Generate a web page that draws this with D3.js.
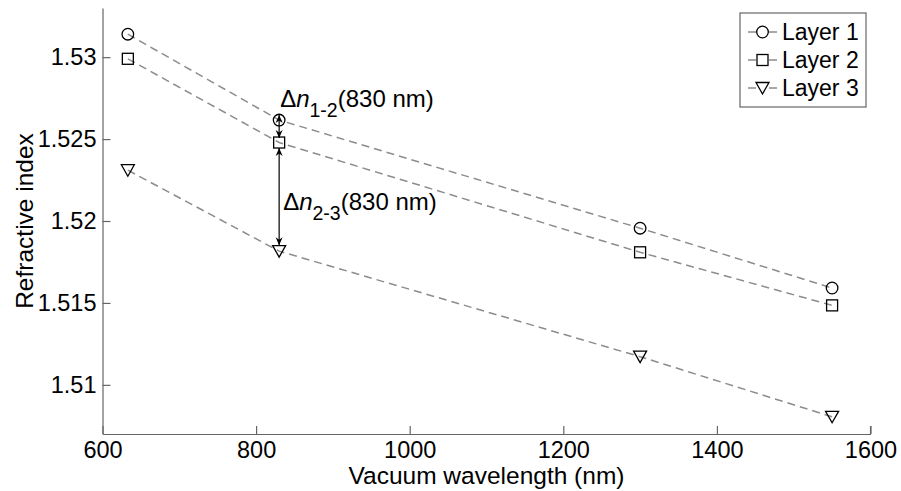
<!DOCTYPE html>
<html>
<head>
  <meta charset="utf-8">
  <title>Refractive index vs vacuum wavelength</title>
  <script src="https://d3js.org/d3.v7.min.js"></script>
  <style>
    body { margin: 0; background: #fff; }
    text { font-family: "Liberation Sans", Arial, sans-serif; fill: #000; }
  </style>
</head>
<body>
  <svg width="901" height="491"></svg>
  <script>
// data
const wavelengths = [633, 830, 1300, 1550];
const layer1 = [1.5314, 1.52616, 1.51956, 1.51591];
const layer2 = [1.5299, 1.52479, 1.51809, 1.51485];
const layer3 = [1.5231, 1.51816, 1.51172, 1.50805];
const seriesNames = ['Layer 1', 'Layer 2', 'Layer 3'];
const markerShapes = ['circle', 'square', 'triangle'];
const xTicks = [600, 800, 1000, 1200, 1400, 1600];
const yTicks = [1.51, 1.515, 1.52, 1.525, 1.53];
const annoWavelength = 830;

const svg = d3.select('svg');
const tickFont = 23.5;
const titleFont = 24.5;
const axisColor = '#666';
const lineColor = '#8c8c8c';

// scales
const x = d3.scaleLinear().domain([600, 1600]).range([102.5, 870.5]);
const y = d3.scaleLinear().domain([1.507, 1.533]).range([434, 8]);

// axes (ticks pointing inward, like matlab)
const xAxis = svg.append('g')
  .attr('transform', `translate(0,${y.range()[0]})`)
  .call(d3.axisBottom(x).tickValues(xTicks).tickSize(-8).tickSizeOuter(0).tickPadding(7).tickFormat(d3.format('d')));
const yAxis = svg.append('g')
  .attr('transform', `translate(${x.range()[0]},0)`)
  .call(d3.axisLeft(y).tickValues(yTicks).tickSize(-8).tickSizeOuter(0).tickPadding(6).tickFormat(d => String(+d.toFixed(3))));

[xAxis, yAxis].forEach(a => {
  a.select('.domain').attr('stroke', axisColor).attr('stroke-width', 1.2);
  a.selectAll('.tick line').attr('stroke', axisColor).attr('stroke-width', 1.2);
  a.selectAll('.tick text').style('font-size', tickFont + 'px').attr('fill', '#000')
    .style('font-family', '"Liberation Sans", Arial, sans-serif');
});
// right end tick of x axis
svg.append('line')
  .attr('x1', x.range()[1]).attr('x2', x.range()[1])
  .attr('y1', y.range()[0]).attr('y2', y.range()[0] - 8)
  .attr('stroke', axisColor).attr('stroke-width', 1.2);

// axis titles
svg.append('text')
  .attr('x', (x.range()[0] + x.range()[1]) / 2).attr('y', 484)
  .attr('text-anchor', 'middle').style('font-size', titleFont + 'px')
  .text('Vacuum wavelength (nm)');
svg.append('text')
  .attr('transform', `translate(33,${(y.range()[0] + y.range()[1]) / 2}) rotate(-90)`)
  .attr('text-anchor', 'middle').style('font-size', titleFont + 'px')
  .text('Refractive index');

// marker drawing
function drawMarker(g, shape, cx, cy) {
  if (shape === 'circle') {
    g.append('circle').attr('cx', cx).attr('cy', cy).attr('r', 5.8)
      .attr('fill', 'none').attr('stroke', '#000').attr('stroke-width', 1.3);
  } else if (shape === 'square') {
    g.append('rect').attr('x', cx - 5.5).attr('y', cy - 5.5).attr('width', 11).attr('height', 11)
      .attr('fill', 'none').attr('stroke', '#000').attr('stroke-width', 1.3);
  } else {
    g.append('path')
      .attr('d', `M${cx - 6.5},${cy - 5.5}L${cx + 6.5},${cy - 5.5}L${cx},${cy + 6}Z`)
      .attr('fill', 'none').attr('stroke', '#000').attr('stroke-width', 1.3);
  }
}

// series
const allSeries = [layer1, layer2, layer3];
const line = d3.line().x((d, i) => x(wavelengths[i])).y(d => y(d));
const plot = svg.append('g');
allSeries.forEach(vals => {
  plot.append('path')
    .datum(vals)
    .attr('fill', 'none')
    .attr('stroke', lineColor)
    .attr('stroke-width', 1.5)
    .attr('stroke-dasharray', '8,5')
    .attr('d', line);
});
allSeries.forEach((vals, k) => {
  vals.forEach((v, i) => drawMarker(plot, markerShapes[k], x(wavelengths[i]), y(v)));
});

// arrowheads
const defs = svg.append('defs');
defs.append('marker')
  .attr('id', 'head')
  .attr('viewBox', '-10 -5 12 10')
  .attr('refX', 0).attr('refY', 0)
  .attr('markerWidth', 12).attr('markerHeight', 10)
  .attr('markerUnits', 'userSpaceOnUse')
  .attr('orient', 'auto-start-reverse')
  .append('path')
  .attr('d', 'M0,0L-8,-3.5L-5.5,0L-8,3.5Z')
  .attr('fill', '#000');

// annotations at 830 nm
const ai = wavelengths.indexOf(annoWavelength);
const ax = x(annoWavelength);
const y1 = y(layer1[ai]), y2 = y(layer2[ai]), y3 = y(layer3[ai]);

svg.append('line')
  .attr('x1', ax).attr('x2', ax)
  .attr('y1', y1 - 5).attr('y2', y2 - 4.5)
  .attr('stroke', '#000').attr('stroke-width', 1.2)
  .attr('marker-start', 'url(#head)').attr('marker-end', 'url(#head)');
svg.append('line')
  .attr('x1', ax).attr('x2', ax)
  .attr('y1', y2 + 5.5).attr('y2', y3 - 6)
  .attr('stroke', '#000').attr('stroke-width', 1.2)
  .attr('marker-start', 'url(#head)').attr('marker-end', 'url(#head)');

function deltaLabel(px, py, sub) {
  const t = svg.append('text').attr('x', px).attr('y', py).style('font-size', '24px');
  t.append('tspan').text('\u0394');
  t.append('tspan').style('font-style', 'italic').text('n');
  t.append('tspan').attr('dy', 10).style('font-size', '19.5px').text(sub);
  t.append('tspan').attr('dy', -10).text('(830 nm)');
}
deltaLabel(ax + 1, y1 - 13, '1-2');
deltaLabel(ax + 4, (y2 + y3) / 2 + 13, '2-3');

// legend
const lg = svg.append('g');
lg.append('rect')
  .attr('x', 740).attr('y', 13).attr('width', 126).attr('height', 94)
  .attr('fill', '#fff').attr('stroke', axisColor).attr('stroke-width', 1.2);
seriesNames.forEach((name, k) => {
  const ry = 32 + k * 28;
  lg.append('line')
    .attr('x1', 748).attr('x2', 777).attr('y1', ry).attr('y2', ry)
    .attr('stroke', lineColor).attr('stroke-width', 1.5)
    .attr('stroke-dasharray', '8,13');
  drawMarker(lg, markerShapes[k], 762.5, ry);
  lg.append('text')
    .attr('x', 782).attr('y', ry + 8)
    .style('font-size', '23px')
    .text(name);
});
  </script>
</body>
</html>
